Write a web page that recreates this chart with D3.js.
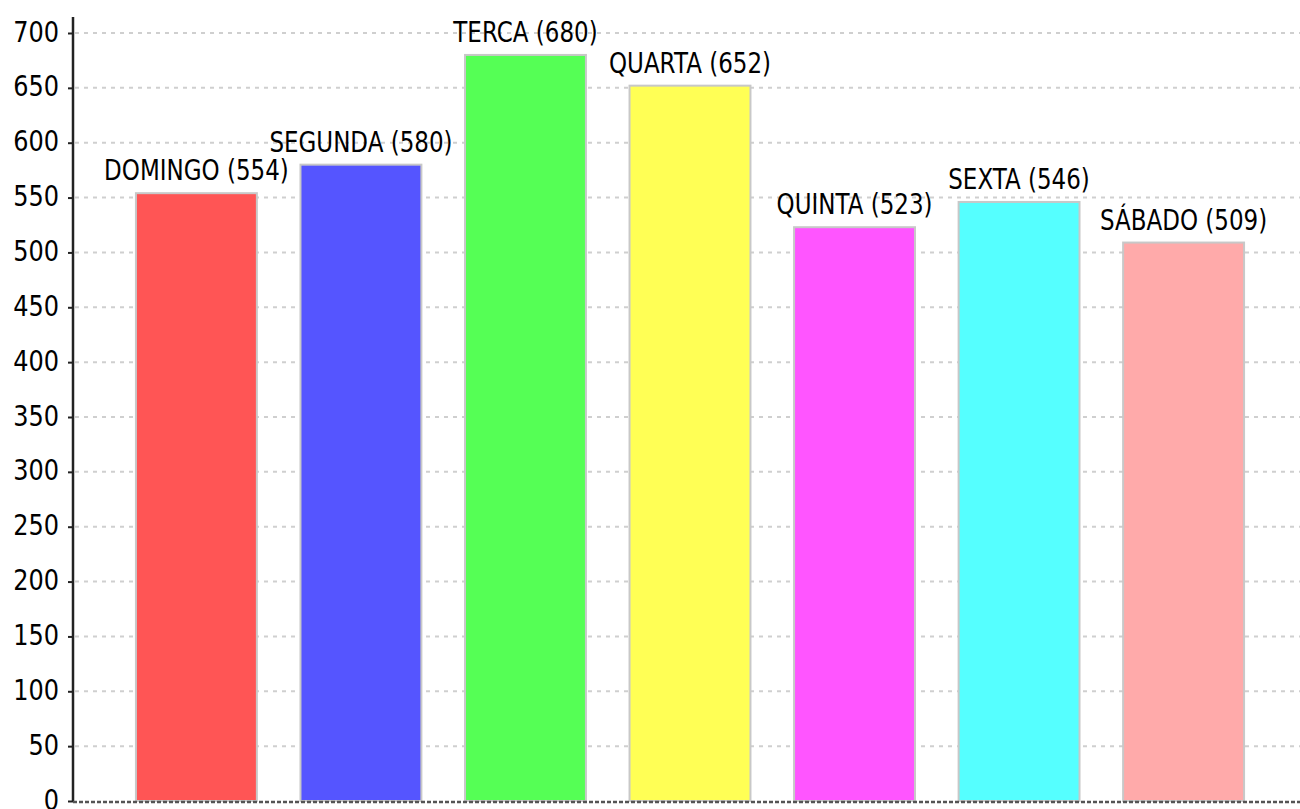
<!DOCTYPE html>
<html>
<head>
<meta charset="utf-8">
<script src="https://cdn.jsdelivr.net/npm/d3@7.9.0/dist/d3.min.js"></script>
<style>
  body { margin: 0; background: #fff; }
  svg text { font-family: 'DejaVu Sans', sans-serif; fill: #000; }
</style>
</head>
<body>
<svg id="chart" width="1300" height="809"></svg>
<script>
// data
const days = ['DOMINGO', 'SEGUNDA', 'TERCA', 'QUARTA', 'QUINTA', 'SEXTA', 'SÁBADO'];
const counts = [554, 580, 680, 652, 523, 546, 509];
const dayColors = ['#ff5555', '#5555ff', '#55ff55', '#ffff55', '#ff55ff', '#55ffff', '#ffaaaa'];
const yTicks = d3.range(0, 701, 50);

const svg = d3.select('#chart');
const axisX = 73;

let y = d3.scaleLinear().domain([0, 700]).range([801, 33]);
let x = d3.scaleBand().domain(days).range([80, 1300]).paddingInner(0.265).paddingOuter(0.34);

// grid lines
svg.append('g')
  .selectAll('line')
  .data(yTicks.filter(d => d > 0))
  .join('line')
  .attr('x1', axisX + 2).attr('x2', 1300)
  .attr('y1', d => y(d)).attr('y2', d => y(d))
  .attr('stroke', '#cfcfcf')
  .attr('stroke-width', 2)
  .attr('stroke-dasharray', '4,5');

// bars
svg.append('g')
  .selectAll('rect')
  .data(days)
  .join('rect')
  .attr('x', d => x(d))
  .attr('y', (d, i) => y(counts[i]))
  .attr('width', x.bandwidth())
  .attr('height', (d, i) => y(0) - y(counts[i]))
  .attr('fill', (d, i) => dayColors[i])
  .attr('stroke', '#c8c8c8')
  .attr('stroke-width', 2);

// bar labels - the original text is stretched vertically
svg.append('g')
  .selectAll('text')
  .data(days)
  .join('text')
  .attr('transform', (d, i) => `translate(${x(d) + x.bandwidth() / 2},${y(counts[i]) - 13}) scale(1,1.22)`)
  .attr('text-anchor', 'middle')
  .attr('font-size', 23)
  .text((d, i) => `${d} (${counts[i]})`);

// left axis
let yAxis = d3.axisLeft(y).tickValues(yTicks).tickSize(5).tickPadding(9);
let gy = svg.append('g').attr('transform', `translate(${axisX},0)`).call(yAxis);
gy.select('.domain').remove();
gy.selectAll('.tick line').attr('stroke', '#222').attr('stroke-width', 2);
gy.selectAll('.tick text')
  .attr('font-size', 24)
  .attr('dy', null)
  .attr('y', 0)
  .attr('transform', 'translate(0,8) scale(1,1.18)')
  .attr('fill', '#000');

svg.append('line')
  .attr('x1', axisX).attr('x2', axisX)
  .attr('y1', 17).attr('y2', 802)
  .attr('stroke', '#222').attr('stroke-width', 2.5);

// bottom dashed baseline
svg.append('line')
  .attr('x1', axisX).attr('x2', 1300)
  .attr('y1', y(0) + 1).attr('y2', y(0) + 1)
  .attr('stroke', '#555').attr('stroke-width', 2.5)
  .attr('stroke-dasharray', '4,2');
</script>
</body>
</html>
